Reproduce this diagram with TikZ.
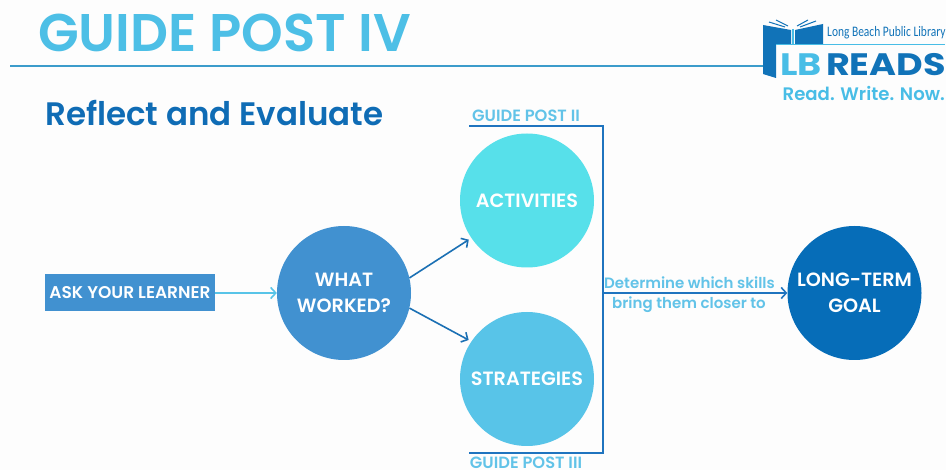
\documentclass[tikz,border=0pt]{standalone}
\usepackage{fontspec}
\setmainfont{Poppins}
\newfontfamily\popsemi{Poppins}[UprightFont=* SemiBold]
\newfontfamily\popmed{Poppins}[UprightFont=* Medium]
\newfontfamily\popwide{Poppins}[UprightFont=* Bold,FakeStretch=1.18]
\newfontfamily\narrowfont{Carlito}[FakeStretch=0.79]
\usetikzlibrary{arrows.meta}
\definecolor{pagewhite}{HTML}{FDFDFD}
\definecolor{titleblue}{HTML}{4DBFE6}
\definecolor{ruleblue}{HTML}{3C9CCB}
\definecolor{headblue}{HTML}{0F6CB5}
\definecolor{midblue}{HTML}{4191D0}
\definecolor{actcol}{HTML}{57E0EA}
\definecolor{stratcol}{HTML}{58C4E8}
\definecolor{goalcol}{HTML}{066DB8}
\definecolor{labelblue}{HTML}{62C3E8}
\definecolor{brackblue}{HTML}{1F74BF}
\definecolor{arrowdark}{HTML}{1B70B4}
\definecolor{logoblue}{HTML}{1173B8}
\definecolor{logolight}{HTML}{48BDE6}
\tikzset{
  circ/.style={circle,minimum size=134pt,inner sep=0pt,text=white,align=center,font=\popsemi\fontsize{19.2}{26.5}\selectfont},
  tag/.style={text=labelblue,inner sep=0pt,font=\popsemi\fontsize{16.3}{18}\selectfont},
  conn/.style={line width=1.6pt,-{Straight Barb[length=5pt,width=11pt,line width=1.6pt]}},
  brk/.style={draw=brackblue,line width=2pt,line cap=rect},
  caption/.style={text=labelblue,inner sep=0pt,font=\popsemi\fontsize{15}{18}\selectfont}
}
\begin{document}
\begin{tikzpicture}[x=1pt,y=-1pt]
\useasboundingbox (0,0) rectangle (946,470);
\fill[pagewhite] (0,0) rectangle (946,470);
% header
\node[anchor=west,inner sep=0pt,text=titleblue,font=\popsemi\fontsize{53}{53}\selectfont] (title) at (38,33) {GUIDE POST IV};
\coordinate (rulestart) at (10,66);
\coordinate (ruleend) at (764,66);
\draw[ruleblue,line width=1.2pt] (rulestart) -- (ruleend);
\node[anchor=west,inner sep=0pt,text=headblue,font=\popsemi\fontsize{32.5}{32}\selectfont] (sub) at (45,112.5) {Reflect and Evaluate};
% logo
\fill[logoblue] (763,25) -- (791,30) -- (791,44) -- (776,44) -- (776,78) -- (763,74) -- cycle;
\fill[logoblue] (795,30) -- (823,24) -- (823,44) -- (795,44) -- cycle;
\draw[logoblue,line width=1pt] (769,22) -- (785,27) (776,20) -- (788,26) (816,21) -- (800,27) (808,20) -- (797,26);
\draw[logolight,line width=1.5pt] (793,29) -- (793,44);
\draw[logolight,line width=1.5pt] (776,44.5) -- (945,44.5);
\node[anchor=west,inner sep=0pt,text=logoblue,font=\narrowfont\fontsize{14.5}{15}\selectfont] (lib) at (827,33) {Long Beach Public Library};
\node[anchor=west,inner sep=0pt,text=logolight,font=\popwide\fontsize{31}{31}\selectfont] (lb) at (780,65) {LB};
\node[anchor=east,inner sep=0pt,text=logoblue,font=\popwide\fontsize{31}{31}\selectfont] (reads) at (946,65) {READS};
\node[anchor=east,inner sep=0pt,text=logolight,font=\popsemi\fontsize{18.1}{18}\selectfont] (rwn) at (945,93) {Read. Write. Now.};
% nodes
\node[fill=midblue,minimum width=170pt,minimum height=37pt,inner sep=0pt,text=white,font=\popsemi\fontsize{17}{18}\selectfont] (ask) at (130,293) {ASK YOUR LEARNER};
\node[circ,fill=midblue] (what) at (344,293) {WHAT\\WORKED?};
\node[circ,fill=actcol] (act) at (527,200.5) {ACTIVITIES};
\node[circ,fill=stratcol] (strat) at (527,379) {STRATEGIES};
\node[circ,fill=goalcol] (goal) at (854.5,293) {LONG-TERM\\GOAL};
% bracket
\coordinate (bt) at (470,126);
\coordinate (bb) at (470,453);
\coordinate (bm) at (603,293);
\draw[brk] (bt) -- (603,126) -- (603,453) -- (bb);
\node[tag] (gp2) at (526,115.5) {GUIDE POST II};
\node[tag] (gp3) at (526,462.5) {GUIDE POST III};
% connectors
\draw[conn,stratcol,line width=2.2pt] (ask.east) -- (what.west);
\draw[conn,arrowdark,shorten >=3pt] (what.13) -- (act.214);
\draw[conn,arrowdark,shorten >=3pt] (what.-13) -- (strat.146);
\draw[conn,brackblue,line width=2pt] (bm) -- (goal.west);
\node[caption] (det) at (689.5,282.5) {Determine which skills};
\node[caption] (bring) at (689,304.5) {bring them closer to};
\end{tikzpicture}
\end{document}
